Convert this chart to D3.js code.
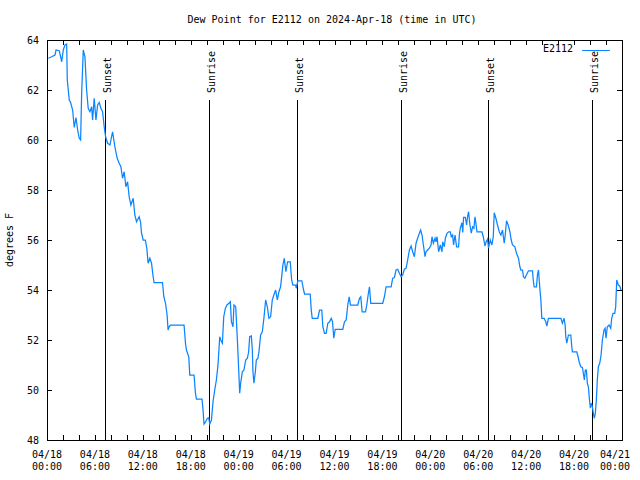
<!DOCTYPE html>
<html><head><meta charset="utf-8">
<script src="https://cdn.jsdelivr.net/npm/d3@7"></script>
<style>
html,body{margin:0;padding:0;background:#fff;}
text{font-family:"DejaVu Sans Mono","Liberation Mono",monospace;font-size:10px;fill:#000;}
</style></head><body>
<svg id="chart" width="640" height="480"></svg>
<script>
const title = "Dew Point for E2112 on 2024-Apr-18 (time in UTC)";
const yLabel = "degrees F";
const seriesName = "E2112";
const startTime = Date.UTC(2024, 3, 18, 0, 0);
// hours since 04/18 00:00 UTC
const hours = [0.16,0.59,1.0,1.13,1.54,1.84,2.04,2.25,2.46,2.54,2.79,2.96,3.21,3.41,3.63,3.84,4.04,4.21,4.34,4.54,4.75,4.96,5.16,5.38,5.59,5.71,5.91,6.13,6.34,6.54,6.75,6.96,7.16,7.34,7.59,7.88,8.21,8.5,8.79,9.04,9.25,9.46,9.66,9.88,10.09,10.29,10.5,10.79,11.0,11.21,11.54,11.71,11.84,12.04,12.31,12.5,12.66,12.88,13.09,13.29,13.41,14.46,14.63,14.84,15.04,15.16,15.29,15.46,17.16,17.34,17.46,17.75,17.88,18.41,18.59,18.71,19.41,19.54,19.66,19.81,20.09,20.25,20.38,20.59,20.79,21.0,21.21,21.41,21.63,21.75,21.96,22.13,22.34,22.54,22.79,22.96,23.09,23.29,23.41,23.63,23.84,23.96,24.13,24.25,24.46,24.66,24.88,25.09,25.25,25.38,25.59,25.71,25.79,25.91,26.09,26.21,26.41,26.54,26.75,26.96,27.16,27.38,27.59,27.79,28.0,28.21,28.41,28.63,28.84,29.04,29.25,29.54,29.71,29.91,30.13,30.46,30.63,30.79,31.13,31.21,31.41,31.91,32.13,32.25,32.96,33.09,33.21,33.91,34.13,34.41,34.54,34.75,34.96,35.16,35.38,35.59,35.75,35.91,36.09,37.04,37.25,37.46,37.66,37.84,38.0,38.91,39.13,39.29,39.46,39.88,40.04,40.21,40.38,40.54,42.04,42.25,42.46,43.09,43.29,43.5,43.71,43.91,44.13,44.34,44.54,44.75,44.96,45.16,45.38,45.59,45.79,46.0,46.21,46.41,46.63,46.79,46.96,47.16,47.34,47.46,47.66,47.88,48.09,48.21,48.38,48.59,48.71,48.84,49.04,49.25,49.46,49.54,49.75,49.88,50.09,50.29,50.5,50.63,50.79,50.91,51.09,51.29,51.54,51.63,51.75,51.96,52.06,52.16,52.38,52.54,52.66,52.79,52.96,53.13,53.29,53.46,53.59,53.71,53.84,54.46,54.63,54.84,54.96,55.16,55.29,55.5,55.71,55.88,56.0,56.21,56.41,56.63,56.84,57.04,57.25,57.38,57.54,57.75,57.96,58.13,58.29,58.59,58.79,59.04,59.21,59.34,59.54,59.66,59.84,60.09,60.29,60.79,60.91,61.0,61.29,61.41,61.54,61.71,61.84,61.96,62.25,62.46,62.59,62.79,64.34,64.54,64.75,64.88,64.96,65.09,65.29,65.59,65.71,65.79,66.34,66.5,66.63,66.84,67.04,67.16,67.29,67.41,67.54,67.66,67.79,67.91,68.04,68.16,68.29,68.41,68.54,68.66,68.79,68.91,69.04,69.21,69.38,69.54,69.75,69.88,70.0,70.16,70.38,70.59,70.71,70.88,71.09,71.21,71.34,71.54,71.71,71.88];
const dewPoint = [63.27,63.33,63.4,63.6,63.57,63.13,63.6,63.8,63.84,62.4,61.6,61.5,61.2,60.5,60.9,60.4,60.07,60.0,61.87,63.6,63.33,62.0,61.27,61.13,61.33,60.8,61.67,60.8,61.4,61.5,61.27,61.13,60.53,60.13,59.87,59.8,60.33,59.73,59.27,59.07,58.93,58.47,58.73,58.13,58.33,57.73,57.4,57.67,57.0,56.73,56.93,56.73,56.27,56.0,56.0,55.67,55.07,55.27,55.07,54.53,54.3,54.3,53.73,53.47,53.0,52.4,52.53,52.6,52.6,51.87,51.6,51.33,50.6,50.6,49.87,49.64,49.64,49.2,48.64,48.7,48.87,48.89,48.64,48.8,49.53,50.0,50.4,51.0,52.13,52.0,51.87,52.93,53.27,53.4,53.47,53.53,52.73,52.53,53.4,53.33,52.0,51.13,49.87,50.27,50.73,50.8,51.2,51.27,51.53,52.13,52.16,51.6,50.73,50.27,50.73,51.2,51.27,51.53,52.2,52.33,52.87,53.6,53.33,52.87,52.93,53.6,53.8,54.0,53.6,53.93,54.13,55.0,55.27,54.73,55.13,55.13,54.4,54.2,54.2,54.07,54.37,54.37,54.0,53.84,53.84,53.2,52.87,52.87,53.2,53.2,52.53,52.27,52.27,52.67,52.73,52.87,52.73,52.07,52.43,52.43,52.73,52.8,53.4,53.73,53.4,53.4,53.67,53.73,53.13,53.13,53.4,53.8,54.13,53.47,53.47,53.73,54.13,54.13,54.47,54.5,54.8,54.83,54.67,54.53,54.6,54.83,54.87,55.2,55.6,55.76,55.53,55.33,55.87,56.07,56.27,56.4,56.2,55.73,55.33,55.53,55.6,55.67,55.8,56.13,55.87,56.07,55.93,56.13,55.53,55.8,55.53,55.93,55.73,56.07,56.27,56.33,56.33,56.13,56.2,55.8,56.2,55.73,55.73,56.2,56.47,56.69,56.3,56.91,56.91,56.6,56.93,57.13,56.6,56.27,56.53,56.47,56.93,56.67,56.33,56.33,56.13,55.76,55.9,56.03,55.67,56.0,55.8,56.13,57.09,56.87,56.6,56.33,56.2,56.4,55.87,56.2,56.77,56.6,56.33,56.0,55.8,55.73,55.47,55.27,54.93,54.8,54.8,54.53,54.47,54.64,54.77,54.77,54.33,54.13,54.13,54.6,54.8,54.07,53.6,52.87,52.87,52.73,52.56,52.87,52.87,52.67,52.87,52.6,52.13,51.87,52.2,52.2,51.73,51.53,51.53,51.33,51.13,50.93,50.9,50.67,50.4,50.8,50.8,50.27,50.13,49.67,49.27,49.47,49.33,49.07,48.87,49.07,49.6,50.4,50.93,51.07,51.4,52.0,52.4,52.47,52.07,52.53,52.6,52.47,52.87,53.07,53.07,53.33,54.4,54.2,54.16,54.0];
const sunHours = [7.28, 20.29, 31.29, 44.29, 55.17, 68.29];
const sunLabels = ["Sunset", "Sunrise", "Sunset", "Sunrise", "Sunset", "Sunrise"];
const yTicks = [48, 50, 52, 54, 56, 58, 60, 62, 64];
const xLabelHours = [0, 6, 12, 18, 24, 30, 36, 42, 48, 54, 60, 66, 72];

const toDate = h => new Date(startTime + h * 3600000);
const data = hours.map((h, i) => ({t: toDate(h), v: dewPoint[i]}));

const svg = d3.select("#chart");
const L = 47, R = 622, T = 40, B = 440;
const x = d3.scaleUtc().domain([toDate(0), toDate(72)]).range([L, R]);
const y = d3.scaleLinear().domain([48, 64]).range([B, T]);

// title
svg.append("text").attr("x", 332).attr("y", 23).attr("text-anchor", "middle").text(title);
// y label
svg.append("text").attr("transform", "translate(13,240) rotate(-90)").attr("text-anchor", "middle").text(yLabel);

// axes ticks
const xTickVals = d3.range(0, 73, 2).map(toDate);
svg.append("g").attr("transform", `translate(0,${B})`)
  .call(d3.axisBottom(x).tickValues(xTickVals).tickSizeInner(-5).tickSizeOuter(0).tickFormat(""));
svg.append("g").attr("transform", `translate(0,${T})`)
  .call(d3.axisTop(x).tickValues(xTickVals).tickSizeInner(-5).tickSizeOuter(0).tickFormat(""));
svg.append("g").attr("transform", `translate(${L},0)`)
  .call(d3.axisLeft(y).tickValues(yTicks).tickSizeInner(-5).tickSizeOuter(0).tickPadding(8).tickFormat(d3.format("d")))
  .call(g => g.selectAll("text").attr("font-family", null).attr("font-size", null).attr("dy", "0.36em"));
svg.append("g").attr("transform", `translate(${R},0)`)
  .call(d3.axisRight(y).tickValues(yTicks).tickSizeInner(-5).tickSizeOuter(0).tickFormat(""));
svg.selectAll(".domain").remove();
svg.selectAll(".tick line").attr("stroke", "#000").attr("shape-rendering", "crispEdges");

// x labels (two lines)
const fmtD = d3.utcFormat("%m/%d"), fmtH = d3.utcFormat("%H:%M");
xLabelHours.forEach((h, i) => {
  const d = toDate(h);
  const last = i === xLabelHours.length - 1;
  const t = svg.append("text").attr("text-anchor", last ? "end" : "middle");
  const xx = last ? x(d) + 8 : x(d);
  t.append("tspan").attr("x", xx).attr("y", 457.5).text(fmtD(d));
  t.append("tspan").attr("x", xx).attr("y", 469.5).text(fmtH(d));
});

// frame
svg.append("rect").attr("x", L).attr("y", T).attr("width", R - L).attr("height", B - T)
  .attr("fill", "none").attr("stroke", "#000").attr("shape-rendering", "crispEdges");

// sunrise/sunset lines
sunHours.forEach((h, i) => {
  const xx = Math.round(x(toDate(h))) + 0.5;
  svg.append("line").attr("x1", xx).attr("x2", xx).attr("y1", B).attr("y2", 100)
    .attr("stroke", "#000").attr("stroke-width", 1).attr("shape-rendering", "crispEdges");
  svg.append("text").attr("transform", `translate(${xx + 5},93) rotate(-90)`).text(sunLabels[i]);
});

// data line
svg.append("path").datum(data)
  .attr("fill", "none").attr("stroke", "#0a84ff").attr("stroke-width", 1.25)
  .attr("d", d3.line().x(d => x(d.t)).y(d => y(d.v)));

// legend
svg.append("text").attr("x", 573).attr("y", 51.5).attr("text-anchor", "end").text(seriesName);
svg.append("line").attr("x1", 582).attr("x2", 610).attr("y1", 50.5).attr("y2", 50.5)
  .attr("stroke", "#0a84ff").attr("stroke-width", 1).attr("shape-rendering", "crispEdges");
</script></body></html>
